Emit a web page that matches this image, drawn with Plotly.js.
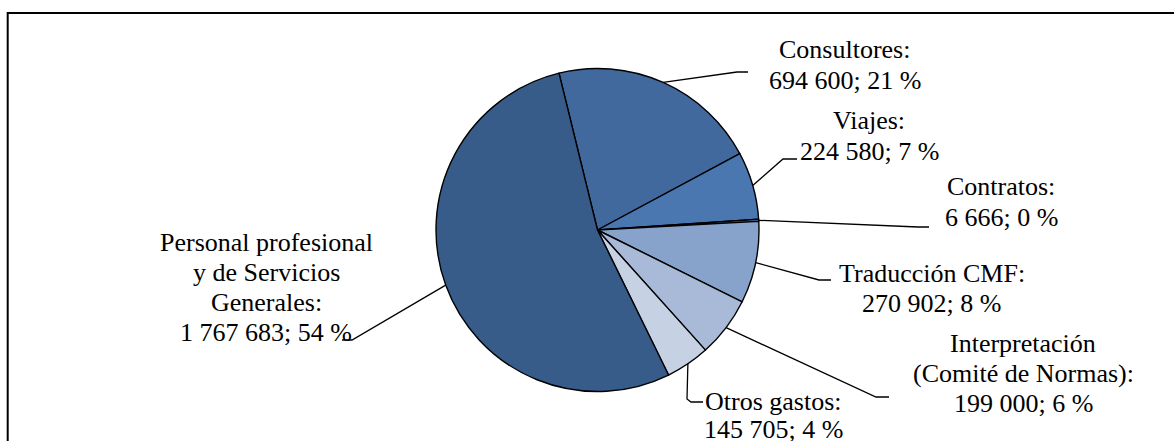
<!DOCTYPE html>
<html><head><meta charset="utf-8">
<script src="https://cdn.plot.ly/plotly-3.0.1.min.js"></script>
<style>html,body{margin:0;padding:0;background:#fff;overflow:hidden;} #chart{width:1174px;height:441px;}</style>
</head><body><div id="chart"></div>
<script>
// ---- data ----
const categories = ["Consultores", "Viajes", "Contratos", "Traducción CMF",
  "Interpretación (Comité de Normas)", "Otros gastos", "Personal profesional y de Servicios Generales"];
const values = [694600, 224580, 6666, 270902, 199000, 145705, 1767683];
const percentLabels = ["21 %", "7 %", "0 %", "8 %", "6 %", "4 %", "54 %"];
const nameLines = [["Consultores:"], ["Viajes:"], ["Contratos:"], ["Traducción CMF:"],
  ["Interpretación", "(Comité de Normas):"], ["Otros gastos:"],
  ["Personal profesional", "y de Servicios", "Generales:"]];
const colors = ["#41699E", "#4A77B0", "#5A84BE", "#87A2CB", "#A9BAD8", "#C6D2E4", "#375C89"];

// ---- layout constants (pixels) ----
const W = 1174, H = 441;
const CX = 597.5, CY = 230, R = 161.5;
const ROT = -13.8;
const FS = 26;
const FONT = "Liberation Serif";
// label placement: center x, first baseline y, line height, leader elbow points
const labelPos = [
  {x: 845, y: 57, lh: 31, pts: [[737, 72], [748, 72]]},
  {x: 869, y: 128, lh: 31, pts: [[783, 159], [797, 159]]},
  {x: 1001, y: 195, lh: 31, pts: [[918, 227], [929, 227]]},
  {x: 932, y: 281, lh: 30, pts: [[819, 280], [831, 280]]},
  {x: 1023, y: 351.5, lh: 30, pts: [[876, 397], [889, 397]]},
  {x: 773, y: 409, lh: 28, pts: [[687, 399], [691, 402], [703, 402]]},
  {x: 266, y: 250, lh: 30, pts: [[352, 340], [342, 340]]}
];

const px = x => x / W, py = y => 1 - y / H;
const fmt = v => String(v).replace(/\B(?=(\d{3})+(?!\d))/g, "\u00A0");

const total = values.reduce((a, b) => a + b, 0);
const shapes = [];
const annotations = [];
let cum = 0;
values.forEach((v, i) => {
  const mid = ROT + (cum + v / 2) / total * 360;
  cum += v;
  const a = mid * Math.PI / 180;
  const sx = CX + R * Math.sin(a), sy = CY - R * Math.cos(a);
  const lp = labelPos[i];
  let path = "M" + px(sx) + "," + py(sy);
  lp.pts.forEach(p => { path += " L" + px(p[0]) + "," + py(p[1]); });
  shapes.push({type: "path", xref: "paper", yref: "paper", path: path,
    line: {color: "#000", width: 1.3}});
  const lines = nameLines[i].concat([fmt(v) + "; " + percentLabels[i]]);
  lines.forEach((t, k) => {
    annotations.push({xref: "paper", yref: "paper", x: px(lp.x), y: py(lp.y + k * lp.lh - 8),
      xanchor: "center", yanchor: "middle", showarrow: false, text: t,
      font: {family: FONT, size: FS, color: "#000"}});
  });
});

// outer border
shapes.push({type: "rect", xref: "paper", yref: "paper",
  x0: px(7.7), y0: py(460), x1: px(1190), y1: py(13),
  line: {color: "#000", width: 2}, fillcolor: "rgba(0,0,0,0)"});

const trace = {
  type: "pie", labels: categories, values: values, sort: false,
  direction: "clockwise", rotation: ROT,
  marker: {colors: colors, line: {color: "#000", width: 1.4}},
  textinfo: "none", hoverinfo: "skip", showlegend: false,
  domain: {x: [(CX - R) / W, (CX + R) / W], y: [1 - (CY + R) / H, 1 - (CY - R) / H]}
};

Plotly.newPlot("chart", [trace], {
  width: W, height: H, margin: {l: 0, r: 0, t: 0, b: 0},
  paper_bgcolor: "#fff", showlegend: false,
  font: {family: FONT},
  shapes: shapes, annotations: annotations
}, {staticPlot: true, displayModeBar: false});
</script></body></html>
